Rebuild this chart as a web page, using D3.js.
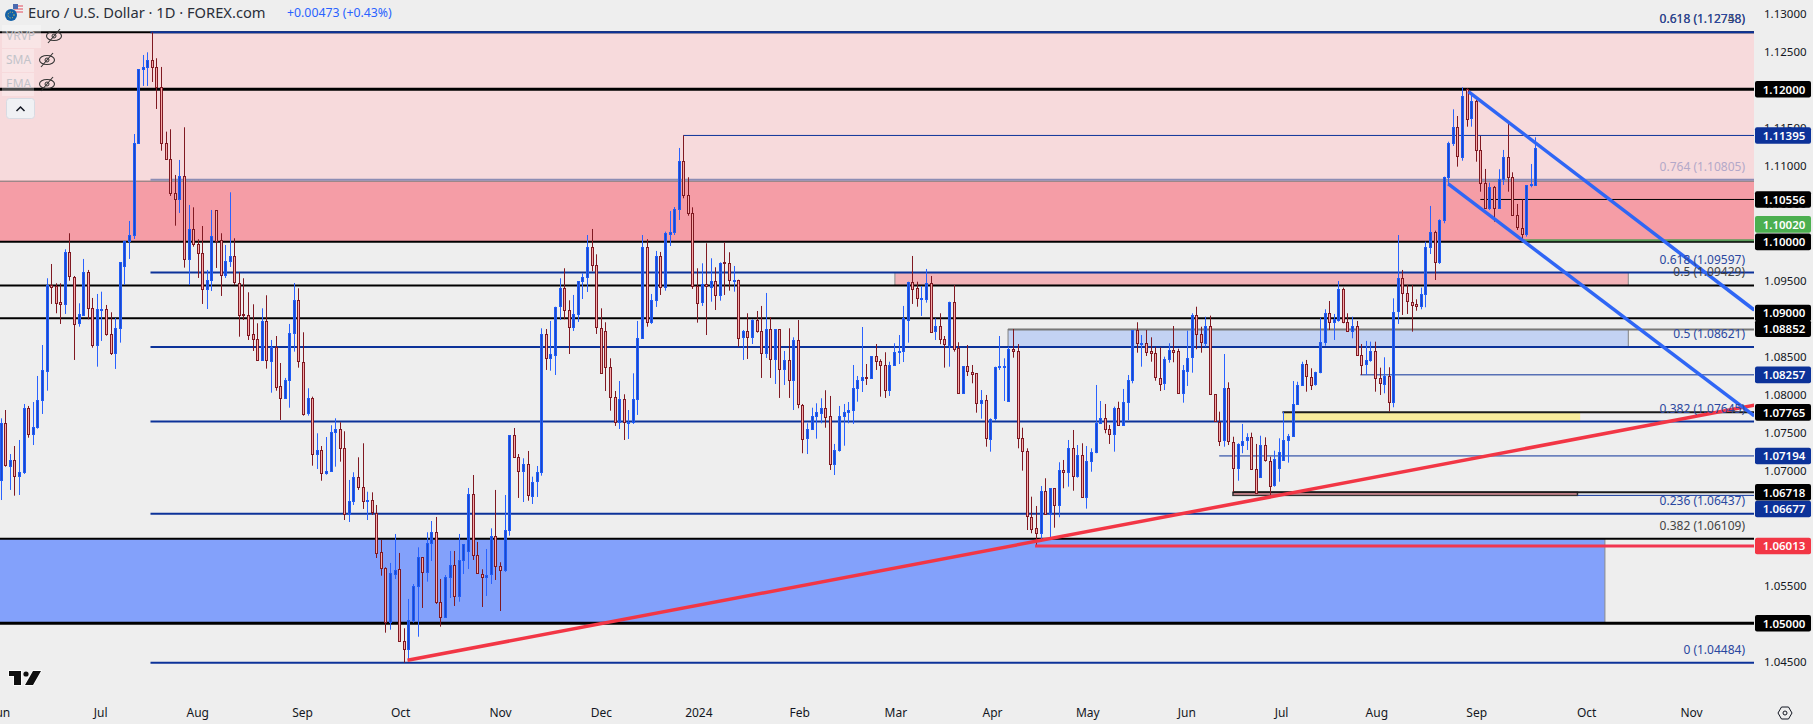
<!DOCTYPE html>
<html>
<head>
<meta charset="utf-8">
<title>EUR/USD</title>
<script src="https://cdn.jsdelivr.net/npm/d3@7"></script>
<style>
  html, body { margin: 0; padding: 0; background: #eeeeee; overflow: hidden; }
  text { font-family: "Noto Sans", "Open Sans", sans-serif; }
</style>
</head>
<body>
<div id="chart"></div>
<script>
// Daily bars
var barOpen = [
1.06879,1.07622,1.07066,1.07137,1.06922,1.06974,1.07819,1.07472,1.07564,1.07918,
1.08311,1.09439,1.09426,1.09208,1.09182,1.09864,1.09544,1.08928,1.09042,1.09601,
1.09129,1.08639,1.09114,1.09116,1.08789,1.08534,1.08867,1.09675,1.10003,1.10081,
1.11292,1.12263,1.12284,1.12381,1.12289,1.12027,1.11292,1.11083,1.10637,1.10553,
1.10860,1.09767,1.10165,1.09968,1.09850,1.09373,1.09491,1.10414,1.10021,1.09557,
1.09740,1.09811,1.09465,1.09051,1.09046,1.08789,1.08723,1.08448,1.08959,1.08448,
1.08626,1.08107,1.07950,1.08186,1.08802,1.09234,1.08429,1.07753,1.07950,1.07216,
1.07268,1.06961,1.06987,1.07504,1.07543,1.07294,1.06429,1.06594,1.06914,1.06783,
1.06603,1.06613,1.06450,1.05931,1.05721,1.05008,1.05656,1.05708,1.04764,1.04659,
1.05034,1.05480,1.05865,1.05663,1.06049,1.06193,1.05275,1.05074,1.05603,1.05761,
1.05349,1.05826,1.05944,1.06691,1.05891,1.05650,1.05611,1.05637,1.06141,1.05747,
1.05690,1.06214,1.07465,1.07176,1.06987,1.07084,1.06673,1.06856,1.06974,1.08789,
1.08474,1.08526,1.09150,1.09392,1.09103,1.08875,1.09051,1.09483,1.09536,1.09929,
1.09693,1.08875,1.08828,1.08356,1.07963,1.07630,1.07937,1.07635,1.07635,1.07937,
1.08731,1.09929,1.08941,1.09234,1.09811,1.09400,1.10107,1.10126,1.10427,1.11057,
1.10611,1.10375,1.09426,1.09203,1.09444,1.09413,1.09491,1.09308,1.09732,1.09719,
1.09496,1.09500,1.08744,1.08828,1.08753,1.08972,1.08828,1.08534,1.08854,1.08456,
1.08854,1.08325,1.08448,1.08186,1.08710,1.07866,1.07425,1.07543,1.07714,1.07766,
1.07826,1.07714,1.07084,1.07268,1.07714,1.07766,1.07792,1.08081,1.08186,1.08225,
1.08207,1.08500,1.08435,1.08382,1.08049,1.08382,1.08559,1.08566,1.08985,1.09478,
1.09392,1.09257,1.09260,1.09465,1.08823,1.08893,1.08723,1.08658,1.09216,1.08605,
1.08015,1.08369,1.08298,1.08277,1.07884,1.07923,1.07425,1.07682,1.08360,1.08365,
1.07905,1.08592,1.08566,1.07425,1.07255,1.06398,1.06245,1.06180,1.06730,1.06429,
1.06770,1.06542,1.07006,1.06974,1.07294,1.06922,1.07202,1.06652,1.07119,1.07242,
1.07617,1.07687,1.07543,1.07472,1.07819,1.07591,1.07897,1.08186,1.08845,1.08671,
1.08679,1.08566,1.08540,1.08220,1.08146,1.08461,1.08583,1.08566,1.08015,1.08317,
1.08482,1.09038,1.08789,1.08679,1.08897,1.08002,1.07643,1.07394,1.08081,1.07373,
1.07032,1.07347,1.07394,1.07438,1.07019,1.06909,1.07333,1.07132,1.06809,1.07032,
1.07141,1.07399,1.07446,1.07871,1.08120,1.08395,1.08233,1.08133,1.08285,1.08684,
1.09064,1.08946,1.08985,1.09386,1.08954,1.08841,1.08901,1.08521,1.08390,1.08448,
1.08566,1.08212,1.08146,1.08246,1.07905,1.09085,1.09523,1.09326,1.09216,1.09182,
1.09150,1.09308,1.09929,1.10126,1.09732,1.10283,1.10847,1.11292,1.11502,1.11117,
1.12004,1.11615,1.11843,1.11205,1.10768,1.10440,1.10716,1.10440,1.10821,1.11109,
1.10847,1.10349,1.10186,1.10104,1.10750,1.10742
];
var barHigh = [
1.07687,1.07796,1.07219,1.07324,1.07403,1.07875,1.07849,1.07901,1.08242,1.08648,
1.09523,1.09710,1.09457,1.09457,1.09903,1.10113,1.09553,1.09195,1.09776,1.09632,
1.09265,1.09317,1.09347,1.09173,1.09077,1.09002,1.09732,1.10016,1.10274,1.11414,
1.12266,1.12450,1.12485,1.12748,1.12407,1.12293,1.11445,1.11476,1.10877,1.11074,
1.11502,1.10484,1.10453,1.10034,1.10208,1.09632,1.10418,1.10414,1.10113,1.09959,
1.10650,1.10047,1.09601,1.09523,1.09339,1.09182,1.08933,1.09129,1.09300,1.08714,
1.08766,1.08412,1.08216,1.08924,1.09461,1.09392,1.08815,1.08081,1.07971,1.07491,
1.07324,1.07442,1.07596,1.07687,1.07635,1.07517,1.06879,1.06980,1.07176,1.07360,
1.06725,1.06717,1.06551,1.06092,1.05734,1.05791,1.06171,1.05922,1.04935,1.05319,
1.05515,1.05996,1.05865,1.06193,1.06341,1.06394,1.05581,1.05633,1.05948,1.05948,
1.06171,1.06036,1.06774,1.06944,1.06066,1.05708,1.05974,1.06245,1.06748,1.05800,
1.06682,1.07465,1.07560,1.07219,1.07163,1.07259,1.06922,1.07062,1.08867,1.08858,
1.08963,1.09150,1.09523,1.09654,1.09234,1.09304,1.09483,1.09588,1.10090,1.10169,
1.09837,1.09129,1.08946,1.08474,1.08045,1.08176,1.08002,1.07796,1.08277,1.08963,
1.10090,1.10034,1.09317,1.09881,1.09868,1.10134,1.10405,1.10457,1.11231,1.11395,
1.10847,1.10453,1.09654,1.09719,1.09982,1.09785,1.09667,1.09732,1.09995,1.09864,
1.09684,1.09504,1.08845,1.09064,1.08985,1.09094,1.09160,1.09330,1.09015,1.08854,
1.08854,1.08570,1.08867,1.08749,1.08976,1.07875,1.07622,1.07826,1.07884,1.07950,
1.08055,1.07980,1.07351,1.07849,1.07875,1.07901,1.08386,1.08242,1.08884,1.08399,
1.08504,1.08661,1.08461,1.08553,1.08429,1.08671,1.08779,1.09160,1.09478,1.09815,
1.09478,1.09422,1.09645,1.09553,1.08998,1.09064,1.08766,1.09216,1.09435,1.08684,
1.08373,1.08648,1.08386,1.08277,1.08058,1.07993,1.07687,1.08364,1.08766,1.08474,
1.08626,1.08858,1.08661,1.07564,1.07294,1.06660,1.06538,1.06800,1.06901,1.06770,
1.06770,1.07111,1.07141,1.07403,1.07534,1.07337,1.07360,1.07324,1.07294,1.08124,
1.07914,1.07875,1.07600,1.07840,1.07905,1.08072,1.08255,1.08845,1.08946,1.08779,
1.08845,1.08749,1.08626,1.08618,1.08495,1.08671,1.08897,1.08600,1.08386,1.08836,
1.09064,1.09150,1.08888,1.09019,1.09033,1.08002,1.07774,1.08530,1.08159,1.07446,
1.07360,1.07613,1.07491,1.07499,1.07351,1.07459,1.07438,1.07184,1.07263,1.07425,
1.07774,1.07482,1.08176,1.08167,1.08429,1.08452,1.08343,1.08298,1.09006,1.09116,
1.09225,1.09055,1.09487,1.09400,1.09064,1.09019,1.08963,1.08661,1.08701,1.08692,
1.08692,1.08351,1.08487,1.08356,1.09260,1.10090,1.09632,1.09435,1.09435,1.09247,
1.09400,1.10003,1.10471,1.10147,1.10296,1.10855,1.11313,1.11738,1.11650,1.12027,
1.12013,1.11916,1.11860,1.11388,1.10956,1.10776,1.10733,1.10952,1.11205,1.11563,
1.10912,1.10497,1.10558,1.10746,1.11021,1.11371
];
var barLow = [
1.06616,1.07053,1.06748,1.06673,1.06682,1.06957,1.07433,1.07337,1.07551,1.07744,
1.08049,1.09186,1.09064,1.08924,1.09055,1.09491,1.08452,1.08888,1.09033,1.08985,
1.08613,1.08364,1.08701,1.08770,1.08517,1.08334,1.08679,1.09435,1.09776,1.10038,
1.11290,1.12044,1.12044,1.12096,1.11742,1.11195,1.11077,1.10602,1.10212,1.10379,
1.09662,1.09435,1.09937,1.09527,1.09186,1.09120,1.09356,1.09658,1.09291,1.09527,
1.09671,1.09435,1.08757,1.08976,1.08714,1.08570,1.08445,1.08443,1.08338,1.08023,
1.08049,1.07665,1.07944,1.07826,1.08561,1.08351,1.07722,1.07722,1.07066,1.07023,
1.06869,1.06948,1.06987,1.07053,1.07119,1.06354,1.06328,1.06551,1.06748,1.06499,
1.06354,1.06420,1.05856,1.05624,1.04877,1.04916,1.05581,1.04759,1.04484,1.04519,
1.05008,1.04824,1.05201,1.05546,1.05817,1.05253,1.04956,1.05074,1.05332,1.05227,
1.05283,1.05646,1.05712,1.05830,1.05650,1.05214,1.05358,1.05515,1.05568,1.05161,
1.05673,1.06149,1.07171,1.06643,1.06590,1.06607,1.06564,1.06656,1.06935,1.08321,
1.08311,1.08255,1.08976,1.08985,1.08530,1.08832,1.08950,1.09251,1.09343,1.09615,
1.08793,1.08285,1.08045,1.07787,1.07587,1.07547,1.07403,1.07416,1.07613,1.07731,
1.08731,1.08888,1.08924,1.09147,1.09304,1.09360,1.09946,1.10090,1.10287,1.10571,
1.10343,1.09383,1.08941,1.09160,1.08779,1.09216,1.09107,1.09229,1.09304,1.09360,
1.09347,1.08626,1.08452,1.08465,1.08661,1.08810,1.08216,1.08478,1.08216,1.08137,
1.07954,1.08124,1.07954,1.07796,1.07819,1.07229,1.07219,1.07534,1.07420,1.07622,
1.07564,1.07010,1.06944,1.07250,1.07328,1.07622,1.07613,1.07905,1.08032,1.08124,
1.08203,1.08321,1.07971,1.07954,1.07980,1.08382,1.08399,1.08425,1.08679,1.09186,
1.09150,1.09029,1.09203,1.08810,1.08714,1.08658,1.08351,1.08364,1.08561,1.08015,
1.08015,1.08242,1.08146,1.07761,1.07682,1.07315,1.07250,1.07656,1.08321,1.07914,
1.07905,1.08482,1.07294,1.07001,1.06223,1.06180,1.06004,1.06070,1.06429,1.06101,
1.06253,1.06390,1.06770,1.06791,1.06738,1.06909,1.06647,1.06503,1.06987,1.07229,
1.07613,1.07491,1.07351,1.07250,1.07591,1.07591,1.07665,1.08146,1.08547,1.08364,
1.08504,1.08429,1.08180,1.08045,1.08058,1.08416,1.08422,1.08015,1.07892,1.08111,
1.08285,1.08592,1.08547,1.08626,1.08002,1.07643,1.07324,1.07315,1.07337,1.06725,
1.06869,1.07229,1.07272,1.07010,1.06704,1.06909,1.07119,1.06660,1.06791,1.06856,
1.07132,1.07106,1.07446,1.07862,1.08111,1.08036,1.08058,1.08115,1.08277,1.08639,
1.08845,1.08714,1.08954,1.08933,1.08836,1.08736,1.08517,1.08255,1.08255,1.08429,
1.08036,1.07993,1.08015,1.07774,1.07832,1.08924,1.09042,1.09055,1.08823,1.09098,
1.09116,1.09143,1.09841,1.09500,1.09710,1.10244,1.10733,1.11257,1.10986,1.11064,
1.11510,1.11510,1.11051,1.10658,1.10431,1.10418,1.10265,1.10431,1.10746,1.10658,
1.10343,1.10156,1.10025,1.10068,1.10716,1.10733
];
var barClose = [
1.07622,1.07066,1.07141,1.06922,1.06980,1.07819,1.07472,1.07569,1.07923,1.08317,
1.09439,1.09418,1.09203,1.09177,1.09864,1.09544,1.08933,1.09051,1.09601,1.09124,
1.08639,1.09116,1.09120,1.08783,1.08534,1.08867,1.09732,1.10008,1.10086,1.11292,
1.12263,1.12289,1.12381,1.12284,1.12027,1.11287,1.11083,1.10632,1.10553,1.10860,
1.09767,1.10165,1.09968,1.09850,1.09373,1.09496,1.10073,1.10012,1.09557,1.09746,
1.09811,1.09465,1.09051,1.09042,1.08789,1.08723,1.08448,1.08959,1.08448,1.08626,
1.08107,1.07950,1.08186,1.08802,1.09234,1.08429,1.07753,1.07950,1.07216,1.07268,
1.06966,1.06993,1.07504,1.07543,1.07289,1.06429,1.06599,1.06914,1.06778,1.06594,
1.06613,1.06450,1.05926,1.05716,1.05008,1.05656,1.05703,1.04759,1.04659,1.05039,
1.05485,1.05865,1.05663,1.06049,1.06193,1.05270,1.05074,1.05603,1.05761,1.05349,
1.05826,1.06036,1.06691,1.05886,1.05650,1.05611,1.05637,1.06141,1.05742,1.05690,
1.06219,1.07465,1.07171,1.06987,1.07084,1.06673,1.06856,1.06980,1.08789,1.08474,
1.08526,1.09150,1.09392,1.09103,1.08875,1.09051,1.09483,1.09536,1.09929,1.09693,
1.08875,1.08285,1.08356,1.07963,1.07630,1.07937,1.07630,1.07643,1.07937,1.08736,
1.09929,1.08941,1.09234,1.09811,1.09400,1.10113,1.10130,1.10427,1.11057,1.10606,
1.10370,1.09413,1.09203,1.09444,1.09418,1.09491,1.09308,1.09727,1.09723,1.09491,
1.09504,1.08744,1.08828,1.08753,1.08972,1.08823,1.08534,1.08854,1.08456,1.08854,
1.08325,1.08448,1.08186,1.08710,1.07866,1.07425,1.07543,1.07714,1.07766,1.07826,
1.07714,1.07084,1.07268,1.07714,1.07766,1.07792,1.08081,1.08186,1.08225,1.08212,
1.08500,1.08435,1.08382,1.08049,1.08382,1.08553,1.08566,1.08998,1.09478,1.09392,
1.09260,1.09264,1.09465,1.08823,1.08893,1.08723,1.08658,1.09216,1.08605,1.08015,
1.08369,1.08298,1.08272,1.07884,1.07923,1.07425,1.07682,1.08356,1.08369,1.08373,
1.08592,1.08561,1.07425,1.07250,1.06398,1.06240,1.06175,1.06730,1.06429,1.06770,
1.06542,1.07006,1.06974,1.07294,1.06922,1.07202,1.06652,1.07124,1.07242,1.07622,
1.07687,1.07543,1.07472,1.07819,1.07591,1.07897,1.08186,1.08845,1.08671,1.08679,
1.08566,1.08540,1.08220,1.08146,1.08461,1.08583,1.08557,1.08015,1.08317,1.08482,
1.09038,1.08789,1.08679,1.08897,1.08002,1.07643,1.07394,1.08081,1.07381,1.07032,
1.07347,1.07394,1.07438,1.07019,1.06704,1.07333,1.07132,1.06809,1.07154,1.07242,
1.07399,1.07452,1.07871,1.08120,1.08395,1.08233,1.08133,1.08291,1.08684,1.09064,
1.08946,1.08985,1.09386,1.08954,1.08841,1.08901,1.08521,1.08390,1.08448,1.08566,
1.08212,1.08146,1.08246,1.07905,1.09085,1.09523,1.09326,1.09216,1.09177,1.09150,
1.09313,1.09929,1.10126,1.09732,1.10283,1.10847,1.11292,1.11502,1.11117,1.11916,
1.11615,1.11843,1.11205,1.10768,1.10440,1.10716,1.10440,1.10821,1.11109,1.10847,
1.10349,1.10186,1.10104,1.10746,1.10755,1.11227
];

// Axis labels
var priceTicks = [1.13,1.125,1.12,1.115,1.11,1.105,1.10,1.095,1.09,1.085,1.08,1.075,1.07,1.065,1.06,1.055,1.05,1.045];
var monthNames = ["Jun","Jul","Aug","Sep","Oct","Nov","Dec","2024","Feb","Mar","Apr","May","Jun","Jul","Aug","Sep","Oct","Nov"];
var monthBars = [0,21.7,42.9,65.8,87.2,109,131,152.3,174.3,195.3,216.4,237.2,258.8,279.5,300.3,322.1,346.1,369];

// Price boxes on the right hand scale
var blackTags = [1.12,1.10556,1.10,1.09,1.08852,1.07765,1.06718,1.05];
var blueTags = [1.11395,1.08257,1.07194,1.06677];

// Horizontal levels
var blackLevels = [1.12748,1.12,1.10,1.09429,1.09,1.06109,1.05];
var fibLevels = [1.12748,1.09597,1.08621,1.07645,1.06437,1.04484];
var fibStartBar = 32.7;
var thinLevels = [1.11395,1.08257,1.07194,1.06677];
var thinStartBars = [149,296.8,266,344.2];
var midLevel = 1.10805;
var blackThin = 1.10556, blackThinBar = 323;
var greenLevel = 1.10020, greenBar = 332.2;
var redLevel = 1.06013, redLevelBar = 225.8;
var supportLevels = [1.07765,1.06718];
var supportBars = [279.8,269];

// Zones, [low price, high price]
var zoneUpper = [1.10805,1.12748];
var zoneLower = [1.10,1.10805];
var zoneBlue = [1.05,1.06109], zoneBlueEnd = 350.2;
var rectPink = [1.09429,1.09597], rectPinkBars = [195.2,355.3];
var rectBlue = [1.08621,1.08852], rectBlueBars = [219.9,355.3];
var rectYellow = [1.07645,1.07765], rectYellowBars = [279.9,344.8];
var rectThin = [1.06677,1.06718], rectThinBars = [269,344.2];

// Trend lines, bar number and price of both ends
var trendBars = [88.8,382.8], trendPrices = [1.04515,1.07858];
var upperBars = [320.4,382.8], upperPrices = [1.11969,1.09107];
var lowerBars = [316,382.8], lowerPrices = [1.10759,1.07718];

// Fib captions
var fibCaptions = ["0.764 (1.10805)","0.618 (1.09597)","0.5 (1.09429)","0.5 (1.08621)","0.382 (1.07645)","0.236 (1.06437)","0.382 (1.06109)","0 (1.04484)"];
var fibCaptionPrices = [1.10805,1.09597,1.09429,1.08621,1.07645,1.06437,1.06109,1.04484];
var fibCaptionKinds = ["pale","blue","dark","blue","blue","blue","dark","blue"];

var svgWidth = 1813;
var svgHeight = 724;
var plotRight = 1754;
var plotBottom = 697;

var navy = "#0c3299";
var upColor = "#2962ff";
var downColor = "#801922";

var svg = d3.select("#chart")
    .append("svg")
    .attr("width", svgWidth)
    .attr("height", svgHeight)
    .style("display", "block");

var xScale = d3.scaleLinear().domain([0, 335]).range([0.7, 1535.3]);
var yScale = d3.scaleLinear().domain([1.05, 1.12]).range([623.3, 89.3]);
var crisp = v => Math.round(v) + 0.5;

svg.append("defs").append("clipPath").attr("id", "plot")
    .append("rect").attr("x", 0).attr("y", 0).attr("width", plotRight).attr("height", plotBottom);

var plot = svg.append("g").attr("clip-path", "url(#plot)");

function band(range, x0, x1, fill) {
    return plot.append("rect")
        .attr("x", x0).attr("width", x1 - x0)
        .attr("y", yScale(range[1])).attr("height", yScale(range[0]) - yScale(range[1]))
        .attr("fill", fill);
}

function hline(price, x0, color, width) {
    return plot.append("line")
        .attr("x1", x0).attr("x2", plotRight)
        .attr("y1", yScale(price)).attr("y2", yScale(price))
        .attr("stroke", color).attr("stroke-width", width);
}

// zones
band(zoneUpper, 0, plotRight, "#f7dadc");
band(zoneLower, 0, plotRight, "#f59da6");
band(zoneBlue, -3, xScale(zoneBlueEnd), "#83a1fb").attr("stroke", "#8a8a8a").attr("stroke-width", 1);
band(rectPink, xScale(rectPinkBars[0]), xScale(rectPinkBars[1]), "#f2b3b8").attr("stroke", "#8a8a8a").attr("stroke-width", 1);
band(rectBlue, xScale(rectBlueBars[0]), xScale(rectBlueBars[1]), "#c3d2f3").attr("stroke", "#808080").attr("stroke-width", 1);
band(rectYellow, xScale(rectYellowBars[0]), xScale(rectYellowBars[1]), "#f7eb9c");
band(rectThin, xScale(rectThinBars[0]), xScale(rectThinBars[1]), "#f5a0aa").attr("stroke", "#333").attr("stroke-width", 1.5);

// levels
hline(midLevel, 0, "#808080", 1).attr("transform", "translate(0,0.8)");
hline(midLevel, xScale(fibStartBar), "#8c8cb4", 2).attr("transform", "translate(0,-0.7)");
hline(rectBlue[1], xScale(rectBlueBars[0]), "#787878", 2);
blackLevels.forEach(d => hline(d, 0, "#000", (d === 1.12 || d === 1.05) ? 3 : 2));
fibLevels.forEach(d => hline(d, xScale(fibStartBar), navy, 2));
thinLevels.forEach((d, i) => hline(d, xScale(thinStartBars[i]), navy, 1));
supportLevels.forEach((d, i) => hline(d, xScale(supportBars[i]), "#1a1a1a", 2));
hline(blackThin, xScale(blackThinBar), "#000", 1);
hline(greenLevel, xScale(greenBar), "#5a9c5a", 2);

// candles
var bars = d3.range(barOpen.length);
var candles = plot.selectAll("g.bar").data(bars).enter().append("g").attr("class", "bar");

candles.append("line")
    .attr("x1", d => crisp(xScale(d))).attr("x2", d => crisp(xScale(d)))
    .attr("y1", d => yScale(barHigh[d])).attr("y2", d => yScale(barLow[d]))
    .attr("stroke", d => barClose[d] >= barOpen[d] ? upColor : downColor)
    .attr("stroke-width", 1);

candles.append("rect")
    .attr("x", d => crisp(xScale(d)) - 1)
    .attr("width", 2)
    .attr("y", d => crisp(yScale(Math.max(barOpen[d], barClose[d]))))
    .attr("height", d => Math.max(1, Math.round(Math.abs(yScale(barOpen[d]) - yScale(barClose[d])))))
    .attr("fill", d => barClose[d] >= barOpen[d] ? "#1c47c8" : "#f7a9a9")
    .attr("stroke", d => barClose[d] >= barOpen[d] ? "#1f5cf5" : downColor)
    .attr("stroke-width", 1);

// red level and trend lines
hline(redLevel, xScale(redLevelBar), "#f23650", 3);

var trend = d3.line().x(d => xScale(d[0])).y(d => yScale(d[1]));
plot.append("path").datum(d3.zip(trendBars, trendPrices)).attr("d", trend)
    .attr("fill", "none").attr("stroke", "#f23645").attr("stroke-width", 3.5);
plot.append("path").datum(d3.zip(upperBars, upperPrices)).attr("d", trend)
    .attr("fill", "none").attr("stroke", "#2f66f5").attr("stroke-width", 3.5);
plot.append("path").datum(d3.zip(lowerBars, lowerPrices)).attr("d", trend)
    .attr("fill", "none").attr("stroke", "#2f66f5").attr("stroke-width", 3.5);

// fib captions
var captionColor = { pale: "#b3a8c8", blue: "#2a479f", dark: "#444" };
plot.selectAll("text.caption").data(fibCaptions).enter().append("text")
    .attr("class", "caption")
    .attr("x", 1745)
    .attr("y", (d, i) => yScale(fibCaptionPrices[i]) - 9)
    .attr("text-anchor", "end")
    .attr("font-size", 12)
    .attr("fill", (d, i) => captionColor[fibCaptionKinds[i]])
    .text(d => d);

plot.append("text").attr("x", 1745).attr("y", yScale(1.12748) - 9)
    .attr("text-anchor", "end").attr("font-size", 12).attr("fill", "#444").text("0.618 (1.12748)");
plot.append("text").attr("x", 1745).attr("y", yScale(1.12748) - 9)
    .attr("text-anchor", "end").attr("font-size", 12).attr("fill", "#2a479f").text("0.618 (1.12758)");

// right axis
var rightAxis = d3.axisRight(yScale).tickValues(priceTicks).tickSize(0).tickPadding(0).tickFormat(d3.format(".5f"));
var yAxisG = svg.append("g").attr("transform", "translate(1764,0.5)").call(rightAxis);
yAxisG.select(".domain").remove();
yAxisG.selectAll("text").attr("font-size", 11.5).attr("fill", "#131722").attr("font-family", "'Noto Sans'");

// bottom axis
var bottomAxis = d3.axisBottom(xScale).tickValues(monthBars).tickSize(0).tickPadding(0).tickFormat((d, i) => monthNames[i]);
var xAxisG = svg.append("g").attr("transform", "translate(0,708)").call(bottomAxis);
xAxisG.select(".domain").remove();
xAxisG.selectAll("text").attr("font-size", 12).attr("fill", "#131722").attr("font-family", "'Noto Sans'");

// price boxes, the scale pushes apart the ones that would sit on top of each other
function priceTag(price, color, shift) {
    var y = yScale(price) + (shift || 0);
    svg.append("rect").attr("x", 1755).attr("y", y - 8.3).attr("width", 56).attr("height", 16.6)
        .attr("rx", 2).attr("fill", color);
    svg.append("text").attr("x", 1784).attr("y", y + 4.3).attr("text-anchor", "middle")
        .attr("font-size", 11.5).attr("font-weight", 600).attr("fill", "#fff")
        .text(d3.format(".5f")(price));
}
priceTag(1.1002, "#4caf50", -16);
blackTags.forEach(d => priceTag(d, "#000", d === 1.09 ? -5.2 : d === 1.08852 ? -0.8 : 0));
blueTags.forEach(d => priceTag(d, navy, d === 1.06677 ? 13.6 : 0));
priceTag(redLevel, "#f23645");

// title
svg.append("text").attr("x", 28).attr("y", 17.5).attr("font-size", 14.7).attr("fill", "#2a2e39")
    .text("Euro / U.S. Dollar · 1D · FOREX.com");
svg.append("text").attr("x", 287).attr("y", 17).attr("font-size", 12.3).attr("fill", "#2962ff")
    .text("+0.00473 (+0.43%)");

// symbol icon
svg.append("circle").attr("cx", 18).attr("cy", 9).attr("r", 5.5).attr("fill", "#f2f2f2");
[6, 9, 12].forEach(y => svg.append("line").attr("x1", 14).attr("x2", 23).attr("y1", y).attr("y2", y)
    .attr("stroke", "#e0485a").attr("stroke-width", 1));
svg.append("rect").attr("x", 13).attr("y", 4).attr("width", 5).attr("height", 5).attr("fill", "#4b6bb0");
svg.append("circle").attr("cx", 11).attr("cy", 15).attr("r", 6).attr("fill", "#1261a8");
svg.append("circle").attr("cx", 11).attr("cy", 15).attr("r", 3).attr("fill", "none")
    .attr("stroke", "#e5c84b").attr("stroke-width", 1).attr("stroke-dasharray", "1 1.5");

// indicator list, top left
var indicatorNames = ["VRVP", "SMA", "EMA"];
indicatorNames.forEach((name, i) => {
    var y = 36 + i * 24;
    var w = name === "VRVP" ? 39 : 32;
    svg.append("rect").attr("x", 2).attr("y", y - 11).attr("width", w).attr("height", 23)
        .attr("fill", "#fff").attr("fill-opacity", 0.3);
    svg.append("text").attr("x", 6).attr("y", y + 4).attr("font-size", 12).attr("fill", "#c2c3c9").text(name);
    var ex = i === 0 ? 54 : 47;
    svg.append("ellipse").attr("cx", ex).attr("cy", y).attr("rx", 7.5).attr("ry", 4.5)
        .attr("fill", "none").attr("stroke", "#333", 1).attr("stroke-width", 1.1);
    svg.append("circle").attr("cx", ex).attr("cy", y).attr("r", 2)
        .attr("fill", "none").attr("stroke", "#333").attr("stroke-width", 1);
    svg.append("line").attr("x1", ex - 6).attr("x2", ex + 6).attr("y1", y + 7).attr("y2", y - 7)
        .attr("stroke", "#333").attr("stroke-width", 1.1);
});
svg.append("rect").attr("x", 6.5).attr("y", 98.5).attr("width", 28).attr("height", 20).attr("rx", 3)
    .attr("fill", "#f0f1f4").attr("stroke", "#d8dbe3");
svg.append("path").attr("d", "M16.5 111l4-4 4 4").attr("fill", "none").attr("stroke", "#131722").attr("stroke-width", 1.5);

// logo, bottom left
var logo = svg.append("g").attr("transform", "translate(8,670)");
logo.append("path").attr("d", "M1 1H13V15H6V6H1Z M25 1H33L25 15H17Z")
    .attr("fill", "#0f0f0f").attr("stroke", "#fff").attr("stroke-width", 1.5).attr("paint-order", "stroke");
logo.append("circle").attr("cx", 18).attr("cy", 4).attr("r", 2.6).attr("fill", "#0f0f0f");

// settings icon
svg.append("path").attr("d", "M1778 713l3.5-6h7l3.5 6-3.5 6h-7Z").attr("fill", "none").attr("stroke", "#131722");
svg.append("circle").attr("cx", 1785).attr("cy", 713).attr("r", 2).attr("fill", "none").attr("stroke", "#131722");
</script>
</body>
</html>
